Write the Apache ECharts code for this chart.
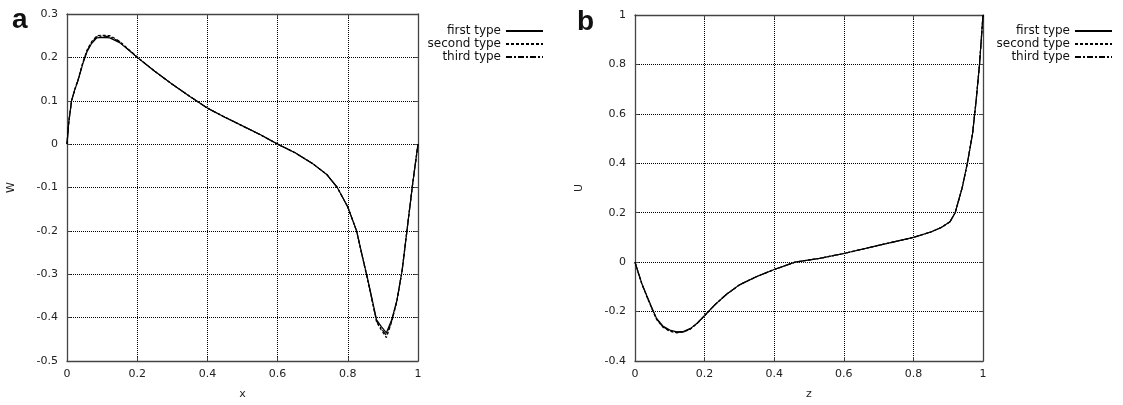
<!DOCTYPE html>
<html>
<head>
<meta charset="utf-8">
<script src="https://cdn.jsdelivr.net/npm/echarts@6/dist/echarts.min.js"></script>
<style>
html,body{margin:0;padding:0;background:#fff;}
#c{width:1123px;height:405px;}
</style>
</head>
<body>
<div id="c"></div>
<script>
// ---- Panel a data: W(x) ----
const wX = [0, 0.005, 0.013, 0.022, 0.032, 0.045, 0.057, 0.07, 0.085, 0.1, 0.122, 0.15, 0.2, 0.25, 0.3, 0.35, 0.4, 0.45, 0.5, 0.55, 0.6, 0.65, 0.7, 0.74, 0.77, 0.8, 0.825, 0.84, 0.855, 0.87, 0.882, 0.895, 0.91, 0.925, 0.94, 0.955, 0.97, 0.985, 1.0];
const wFirst = [0, 0.05, 0.1, 0.125, 0.148, 0.185, 0.213, 0.232, 0.245, 0.246, 0.245, 0.234, 0.2, 0.168, 0.138, 0.11, 0.083, 0.062, 0.042, 0.022, 0.0, -0.02, -0.045, -0.07, -0.1, -0.145, -0.2, -0.253, -0.305, -0.36, -0.405, -0.42, -0.435, -0.405, -0.36, -0.29, -0.19, -0.09, 0];
const wSecond = [0, 0.05, 0.1, 0.126, 0.15, 0.188, 0.217, 0.236, 0.25, 0.251, 0.25, 0.237, 0.201, 0.168, 0.138, 0.11, 0.083, 0.062, 0.042, 0.022, 0.0, -0.02, -0.045, -0.07, -0.1, -0.145, -0.2, -0.255, -0.308, -0.364, -0.41, -0.428, -0.446, -0.41, -0.362, -0.29, -0.19, -0.09, 0];
const wThird = [0, 0.05, 0.1, 0.125, 0.149, 0.187, 0.215, 0.234, 0.248, 0.249, 0.248, 0.236, 0.2, 0.168, 0.138, 0.11, 0.083, 0.062, 0.042, 0.022, 0.0, -0.02, -0.045, -0.07, -0.1, -0.145, -0.2, -0.254, -0.306, -0.362, -0.408, -0.425, -0.441, -0.408, -0.361, -0.29, -0.19, -0.09, 0];

// ---- Panel b data: U(z) ----
const uZ = [0, 0.01, 0.02, 0.034, 0.05, 0.062, 0.08, 0.1, 0.12, 0.14, 0.16, 0.18, 0.2, 0.23, 0.264, 0.3, 0.35, 0.4, 0.46, 0.53, 0.6, 0.7, 0.8, 0.85, 0.88, 0.905, 0.92, 0.94, 0.955, 0.97, 0.98, 0.99, 1.0];
const uFirst = [0, -0.045, -0.088, -0.136, -0.19, -0.228, -0.258, -0.275, -0.282, -0.28, -0.268, -0.245, -0.216, -0.172, -0.129, -0.092, -0.058, -0.03, 0.0, 0.015, 0.035, 0.068, 0.1, 0.122, 0.14, 0.163, 0.2, 0.3, 0.4, 0.52, 0.65, 0.8, 1.0];
const uSecond = [0, -0.046, -0.09, -0.139, -0.194, -0.232, -0.263, -0.28, -0.286, -0.283, -0.27, -0.246, -0.217, -0.172, -0.129, -0.092, -0.058, -0.03, 0.0, 0.015, 0.035, 0.068, 0.1, 0.122, 0.14, 0.163, 0.2, 0.3, 0.4, 0.52, 0.65, 0.8, 1.0];
const uThird = [0, -0.045, -0.089, -0.138, -0.192, -0.23, -0.261, -0.278, -0.284, -0.282, -0.269, -0.246, -0.216, -0.172, -0.129, -0.092, -0.058, -0.03, 0.0, 0.015, 0.035, 0.068, 0.1, 0.122, 0.14, 0.163, 0.2, 0.3, 0.4, 0.52, 0.65, 0.8, 1.0];

const seriesNames = ['first type', 'second type', 'third type'];
const xTicks = [0, 0.2, 0.4, 0.6, 0.8, 1];

const pairs = (xs, ys) => xs.map((x, i) => [x, ys[i]]);
const dashes = ['solid', [3, 2], [6, 2, 2, 2]];

const font = 'DejaVu Sans';
const frameColor = '#444';

function mainX(grid, name) {
  return {
    type: 'value', gridIndex: grid, min: 0, max: 1, interval: 0.2,
    name: name, nameLocation: 'middle', nameGap: 28,
    nameTextStyle: { fontFamily: font, fontSize: 11, color: '#222' },
    axisLine: { show: true, onZero: false, lineStyle: { color: frameColor, width: 1.3 } },
    axisTick: { show: true, inside: true, length: 4, lineStyle: { color: frameColor } },
    axisLabel: { fontFamily: font, fontSize: 11, color: '#222', margin: 8 },
    splitLine: { show: true, lineStyle: { color: '#000', type: [1, 1], width: 1 } }
  };
}
function mirrorX(grid) {
  return {
    type: 'value', gridIndex: grid, min: 0, max: 1, interval: 0.2, position: 'top',
    axisLine: { show: true, onZero: false, lineStyle: { color: frameColor, width: 1.3 } },
    axisTick: { show: true, inside: true, length: 4, lineStyle: { color: frameColor } },
    axisLabel: { show: false }, splitLine: { show: false }
  };
}
function mainY(grid, name, min, max, interval) {
  return {
    type: 'value', gridIndex: grid, min: min, max: max, interval: interval,
    name: name, nameLocation: 'middle', nameGap: 50, nameRotate: 90,
    nameTextStyle: { fontFamily: font, fontSize: 11, color: '#222' },
    axisLine: { show: true, onZero: false, lineStyle: { color: frameColor, width: 1.3 } },
    axisTick: { show: true, inside: true, length: 4, lineStyle: { color: frameColor } },
    axisLabel: { fontFamily: font, fontSize: 11, color: '#222', margin: 9 },
    splitLine: { show: true, lineStyle: { color: '#000', type: [1, 1], width: 1 } }
  };
}
function mirrorY(grid, min, max, interval) {
  return {
    type: 'value', gridIndex: grid, min: min, max: max, interval: interval, position: 'right',
    axisLine: { show: true, onZero: false, lineStyle: { color: frameColor, width: 1.3 } },
    axisTick: { show: true, inside: true, length: 4, lineStyle: { color: frameColor } },
    axisLabel: { show: false }, splitLine: { show: false }
  };
}

const aSets = [wFirst, wSecond, wThird];
const bSets = [uFirst, uSecond, uThird];
const series = [];
seriesNames.forEach((n, i) => {
  series.push({
    name: n, type: 'line', xAxisIndex: 0, yAxisIndex: 0,
    data: pairs(wX, aSets[i]), symbol: 'none', smooth: false, animation: false,
    lineStyle: { color: '#000', width: 1.2, type: dashes[i] }, itemStyle: { color: '#000' }
  });
});
seriesNames.forEach((n, i) => {
  series.push({
    name: n, type: 'line', xAxisIndex: 2, yAxisIndex: 2,
    data: pairs(uZ, bSets[i]), symbol: 'none', smooth: false, animation: false,
    lineStyle: { color: '#000', width: 1.2, type: dashes[i] }, itemStyle: { color: '#000' }
  });
});

function legend(right) {
  return {
    data: seriesNames, orient: 'vertical', align: 'right', right: right, top: 20,
    itemWidth: 37, itemHeight: 10, itemGap: 1, selectedMode: false,
    itemStyle: { opacity: 0, color: 'rgba(0,0,0,0)', borderWidth: 0 },
    textStyle: { fontFamily: font, fontSize: 12, color: '#111', lineHeight: 12 }
  };
}

const chart = echarts.init(document.getElementById('c'), null, { renderer: 'canvas' });
chart.setOption({
  backgroundColor: '#fff',
  animation: false,
  grid: [
    { left: 67, top: 14, width: 351, height: 352 },
    { left: 635, top: 15, width: 348, height: 352 }
  ],
  xAxis: [mainX(0, 'x'), mirrorX(0), mainX(1, 'z'), mirrorX(1)],
  yAxis: [mainY(0, 'W', -0.5, 0.3, 0.1), mirrorY(0, -0.5, 0.3, 0.1), mainY(1, 'U', -0.4, 1, 0.2), mirrorY(1, -0.4, 1, 0.2)],
  legend: [legend(574), legend(5)],
  graphic: [
    { type: 'text', left: 12, top: 6, style: { text: 'a', font: 'bold 28px "Liberation Sans"', fill: '#111' } },
    { type: 'text', left: 577, top: 8, style: { text: 'b', font: 'bold 28px "Liberation Sans"', fill: '#111' } }
  ],
  series: series
});
</script>
</body>
</html>
